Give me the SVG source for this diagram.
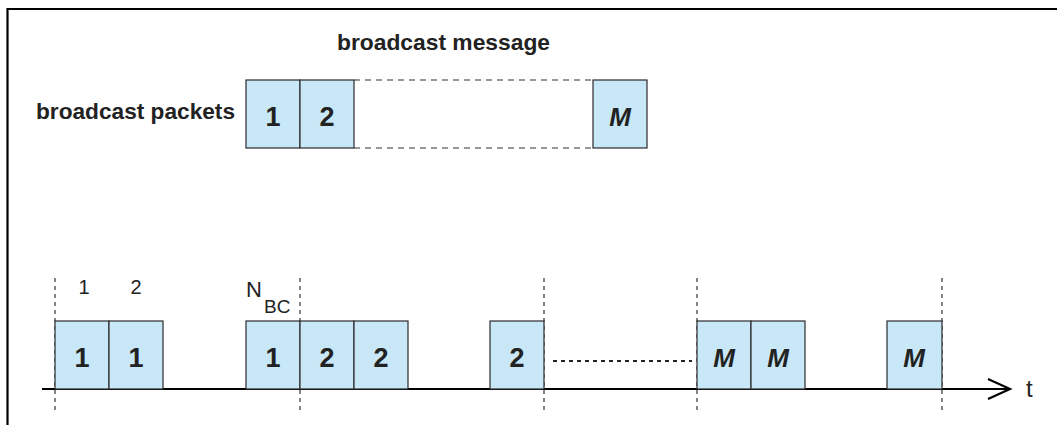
<svg xmlns="http://www.w3.org/2000/svg" width="1057" height="425" viewBox="0 0 1057 425">
<defs>
<style>
.frame{fill:none;stroke:#000;stroke-width:2.2}
.box{fill:#c8e7f7;stroke:#2b2b2b;stroke-width:1.2}
.num{font-family:"Liberation Sans",Arial,sans-serif;font-weight:bold;font-size:27px;fill:#222;text-anchor:middle}
.numi{font-family:"Liberation Sans",Arial,sans-serif;font-weight:bold;font-style:italic;font-size:26px;fill:#222;text-anchor:middle}
.title{font-family:"Liberation Sans",Arial,sans-serif;font-weight:bold;font-size:22px;fill:#222}
.lbl{font-family:"Liberation Sans",Arial,sans-serif;font-size:20px;fill:#222}
.vdash{stroke:#333;stroke-width:1.2;stroke-dasharray:4,4;fill:none}
.hdash{stroke:#333;stroke-width:1.2;stroke-dasharray:6,5;fill:none}
.dots{stroke:#222;stroke-width:2;stroke-dasharray:4,4;fill:none}
.axis{stroke:#000;stroke-width:2.2;fill:none}
</style>
</defs>
<rect width="1057" height="425" fill="#fff"/>
<path class="frame" d="M7.5,425 V9 H1057"/>

<g id="title-message"><text class="title" x="337" y="50" textLength="213" lengthAdjust="spacingAndGlyphs">broadcast message</text></g>
<g id="title-packets"><text class="title" x="36" y="119" textLength="199" lengthAdjust="spacingAndGlyphs">broadcast packets</text></g>

<g id="top-packet-1"><rect class="box" x="246" y="80" width="54" height="68"/><text class="num" x="273" y="126">1</text></g>
<g id="top-packet-2"><rect class="box" x="300" y="80" width="54" height="68"/><text class="num" x="327" y="126">2</text></g>
<g id="top-packet-M"><rect class="box" x="593" y="80" width="54" height="68"/><text class="numi" x="620" y="126">M</text></g>

<g id="slot-labels">
<text class="lbl" x="84" y="294" text-anchor="middle">1</text>
<text class="lbl" x="136" y="294" text-anchor="middle">2</text>
<text x="246" y="297" font-family="Liberation Sans, Arial, sans-serif" font-size="22" fill="#222">N<tspan x="264" y="313" font-size="19">BC</tspan></text>
</g>

<g id="connectors">
<line class="hdash" x1="354" y1="80" x2="593" y2="80"/>
<line class="hdash" x1="354" y1="148" x2="593" y2="148"/>
<line class="vdash" x1="55" y1="278" x2="55" y2="412"/>
<line class="vdash" x1="300" y1="278" x2="300" y2="412"/>
<line class="vdash" x1="544" y1="278" x2="544" y2="412"/>
<line class="vdash" x1="697" y1="278" x2="697" y2="412"/>
<line class="vdash" x1="942" y1="278" x2="942" y2="412"/>
<line class="dots" x1="553" y1="361" x2="692" y2="361"/>
<line class="axis" x1="42" y1="389" x2="1009" y2="389"/>
<polyline class="axis" points="988,379 1010,389 988,399"/>
</g>

<g id="tx-1a"><rect class="box" x="55" y="321" width="54" height="68"/><text class="num" x="82" y="367">1</text></g>
<g id="tx-1b"><rect class="box" x="109" y="321" width="54" height="68"/><text class="num" x="136" y="367">1</text></g>
<g id="tx-1c"><rect class="box" x="246" y="321" width="54" height="68"/><text class="num" x="273" y="367">1</text></g>
<g id="tx-2a"><rect class="box" x="300" y="321" width="54" height="68"/><text class="num" x="327" y="367">2</text></g>
<g id="tx-2b"><rect class="box" x="354" y="321" width="54" height="68"/><text class="num" x="381" y="367">2</text></g>
<g id="tx-2c"><rect class="box" x="490" y="321" width="54" height="68"/><text class="num" x="517" y="367">2</text></g>
<g id="tx-Ma"><rect class="box" x="697" y="321" width="54" height="68"/><text class="numi" x="724" y="367">M</text></g>
<g id="tx-Mb"><rect class="box" x="751" y="321" width="54" height="68"/><text class="numi" x="778" y="367">M</text></g>
<g id="tx-Mc"><rect class="box" x="887" y="321" width="55" height="68"/><text class="numi" x="914" y="367">M</text></g>

<g id="axis-label"><text x="1026" y="397" font-family="Liberation Sans, Arial, sans-serif" font-size="24" fill="#222">t</text></g>
</svg>
